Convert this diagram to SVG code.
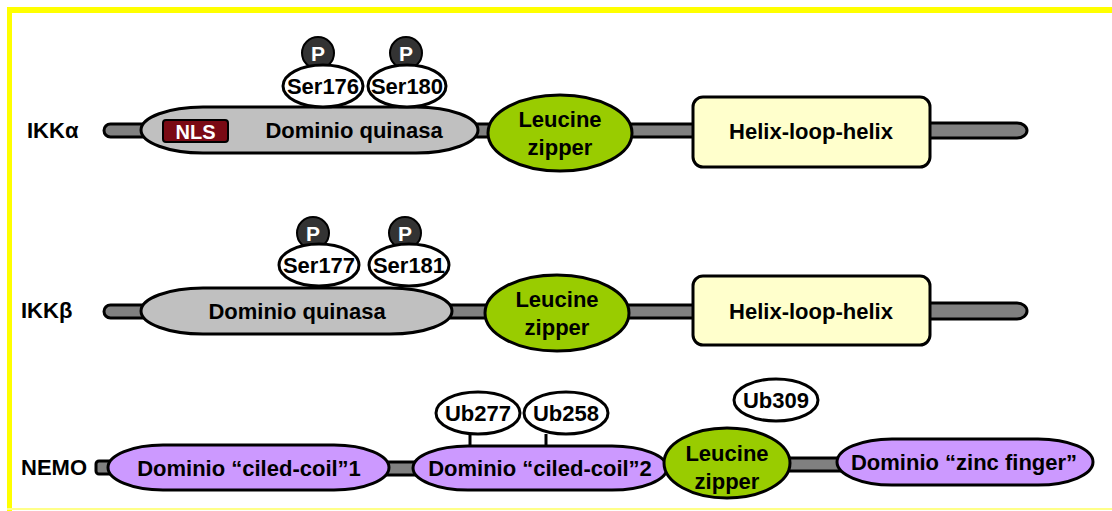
<svg xmlns="http://www.w3.org/2000/svg" width="1112" height="511" viewBox="0 0 1112 511">
<style>
text{font-family:"Liberation Sans",Arial,sans-serif;font-weight:bold;font-size:22px;fill:#000;text-anchor:middle}
.lbl{text-anchor:start}
.bar{fill:#808080;stroke:#000;stroke-width:3}
.kin{fill:#c0c0c0;stroke:#000;stroke-width:3}
.lz{fill:#99cc00;stroke:#000;stroke-width:3}
.hlh{fill:#ffffcc;stroke:#000;stroke-width:3}
.cc{fill:#cc99ff;stroke:#000;stroke-width:3}
.site{fill:#fff;stroke:#000;stroke-width:3}
.p{fill:#333;stroke:#000;stroke-width:2}
.pt{fill:#fff;font-size:21px}
.stem{stroke:#000;stroke-width:3}
</style>
<rect x="0" y="0" width="1112" height="511" fill="#fff"/>
<g id="frame">
<rect x="7" y="7" width="1105" height="6" fill="#ffff00"/>
<rect x="7" y="7" width="5" height="504" fill="#ffff00"/>
<rect x="7" y="508" width="1105" height="2" fill="#ffff88"/>
</g>
<g id="connectors">
<rect class="bar" x="104" y="124" width="50" height="13" rx="6.5"/>
<rect class="bar" x="470" y="124" width="30" height="13"/>
<rect class="bar" x="625" y="124" width="72" height="13"/>
<rect class="bar" x="920" y="123" width="107" height="15" rx="10" ry="7.5"/>
<rect class="bar" x="104" y="305" width="50" height="13" rx="6.5"/>
<rect class="bar" x="445" y="305" width="50" height="13"/>
<rect class="bar" x="622" y="305" width="75" height="13"/>
<rect class="bar" x="920" y="303" width="107" height="16" rx="10" ry="8"/>
<rect class="bar" x="96" y="461" width="18" height="13" rx="3"/>
<rect class="bar" x="380" y="462" width="40" height="13"/>
<rect class="bar" x="785" y="458" width="56" height="13"/>
<line class="stem" x1="470" y1="434" x2="470" y2="448"/>
<line class="stem" x1="546" y1="434" x2="546" y2="448"/>
</g>
<g id="ikka">
<text class="lbl" x="27" y="138">IKKα</text>
<g id="ikka-kinase">
<rect class="kin" x="141" y="107" width="337" height="46" rx="62" ry="23"/>
<rect x="163" y="120" width="65" height="22" rx="3" fill="#7a0a14" stroke="#000" stroke-width="2"/>
<text x="195.5" y="139" style="fill:#fff;font-size:20px">NLS</text>
<text x="354" y="138">Dominio quinasa</text>
</g>
<g id="ikka-ser176">
<circle class="p" cx="318" cy="53" r="16"/>
<text class="pt" x="318" y="61">P</text>
<ellipse class="site" cx="323" cy="86" rx="40" ry="21"/>
<text x="323" y="94">Ser176</text>
</g>
<g id="ikka-ser180">
<circle class="p" cx="406" cy="53" r="16"/>
<text class="pt" x="406" y="61">P</text>
<ellipse class="site" cx="407" cy="86" rx="39" ry="21"/>
<text x="407" y="94">Ser180</text>
</g>
<g id="ikka-lz">
<ellipse class="lz" cx="560" cy="133" rx="72" ry="38"/>
<text x="560" y="127">Leucine</text>
<text x="560" y="155">zipper</text>
</g>
<g id="ikka-hlh">
<rect class="hlh" x="693" y="97" width="237" height="70" rx="10"/>
<text x="811" y="139">Helix-loop-helix</text>
</g>
</g>
<g id="ikkb">
<text class="lbl" x="21" y="318">IKKβ</text>
<g id="ikkb-kinase">
<rect class="kin" x="141" y="288" width="311" height="46" rx="62" ry="23"/>
<text x="297" y="319">Dominio quinasa</text>
</g>
<g id="ikkb-ser177">
<circle class="p" cx="313" cy="233" r="16"/>
<text class="pt" x="313" y="241">P</text>
<ellipse class="site" cx="319" cy="265" rx="40" ry="21"/>
<text x="319" y="273">Ser177</text>
</g>
<g id="ikkb-ser181">
<circle class="p" cx="405" cy="233" r="16"/>
<text class="pt" x="405" y="241">P</text>
<ellipse class="site" cx="409" cy="265" rx="40" ry="21"/>
<text x="409" y="273">Ser181</text>
</g>
<g id="ikkb-lz">
<ellipse class="lz" cx="557" cy="313" rx="72" ry="38"/>
<text x="557" y="307">Leucine</text>
<text x="557" y="335">zipper</text>
</g>
<g id="ikkb-hlh">
<rect class="hlh" x="693" y="276" width="237" height="69" rx="10"/>
<text x="811" y="319">Helix-loop-helix</text>
</g>
</g>
<g id="nemo">
<text class="lbl" x="21" y="475">NEMO</text>
<g id="nemo-cc1">
<rect class="cc" x="108" y="445" width="281" height="45" rx="55" ry="22.5"/>
<text x="249" y="476">Dominio “ciled-coil”1</text>
</g>
<g id="nemo-cc2">
<rect class="cc" x="413" y="446" width="254" height="44" rx="55" ry="22"/>
<text x="540" y="476">Dominio “ciled-coil”2</text>
</g>
<g id="nemo-ub277">
<ellipse class="site" cx="478" cy="413" rx="42" ry="21"/>
<text x="478" y="421">Ub277</text>
</g>
<g id="nemo-ub258">
<ellipse class="site" cx="566" cy="413" rx="42" ry="21"/>
<text x="566" y="421">Ub258</text>
</g>
<g id="nemo-lz">
<ellipse class="lz" cx="727" cy="463" rx="63" ry="35"/>
<text x="727" y="461">Leucine</text>
<text x="727" y="489">zipper</text>
</g>
<g id="nemo-ub309">
<ellipse class="site" cx="776" cy="400" rx="42" ry="21"/>
<text x="776" y="408">Ub309</text>
</g>
<g id="nemo-zf">
<rect class="cc" x="837" y="439" width="256" height="46" rx="55" ry="23"/>
<text x="964" y="470">Dominio “zinc finger”</text>
</g>
</g>
</svg>
